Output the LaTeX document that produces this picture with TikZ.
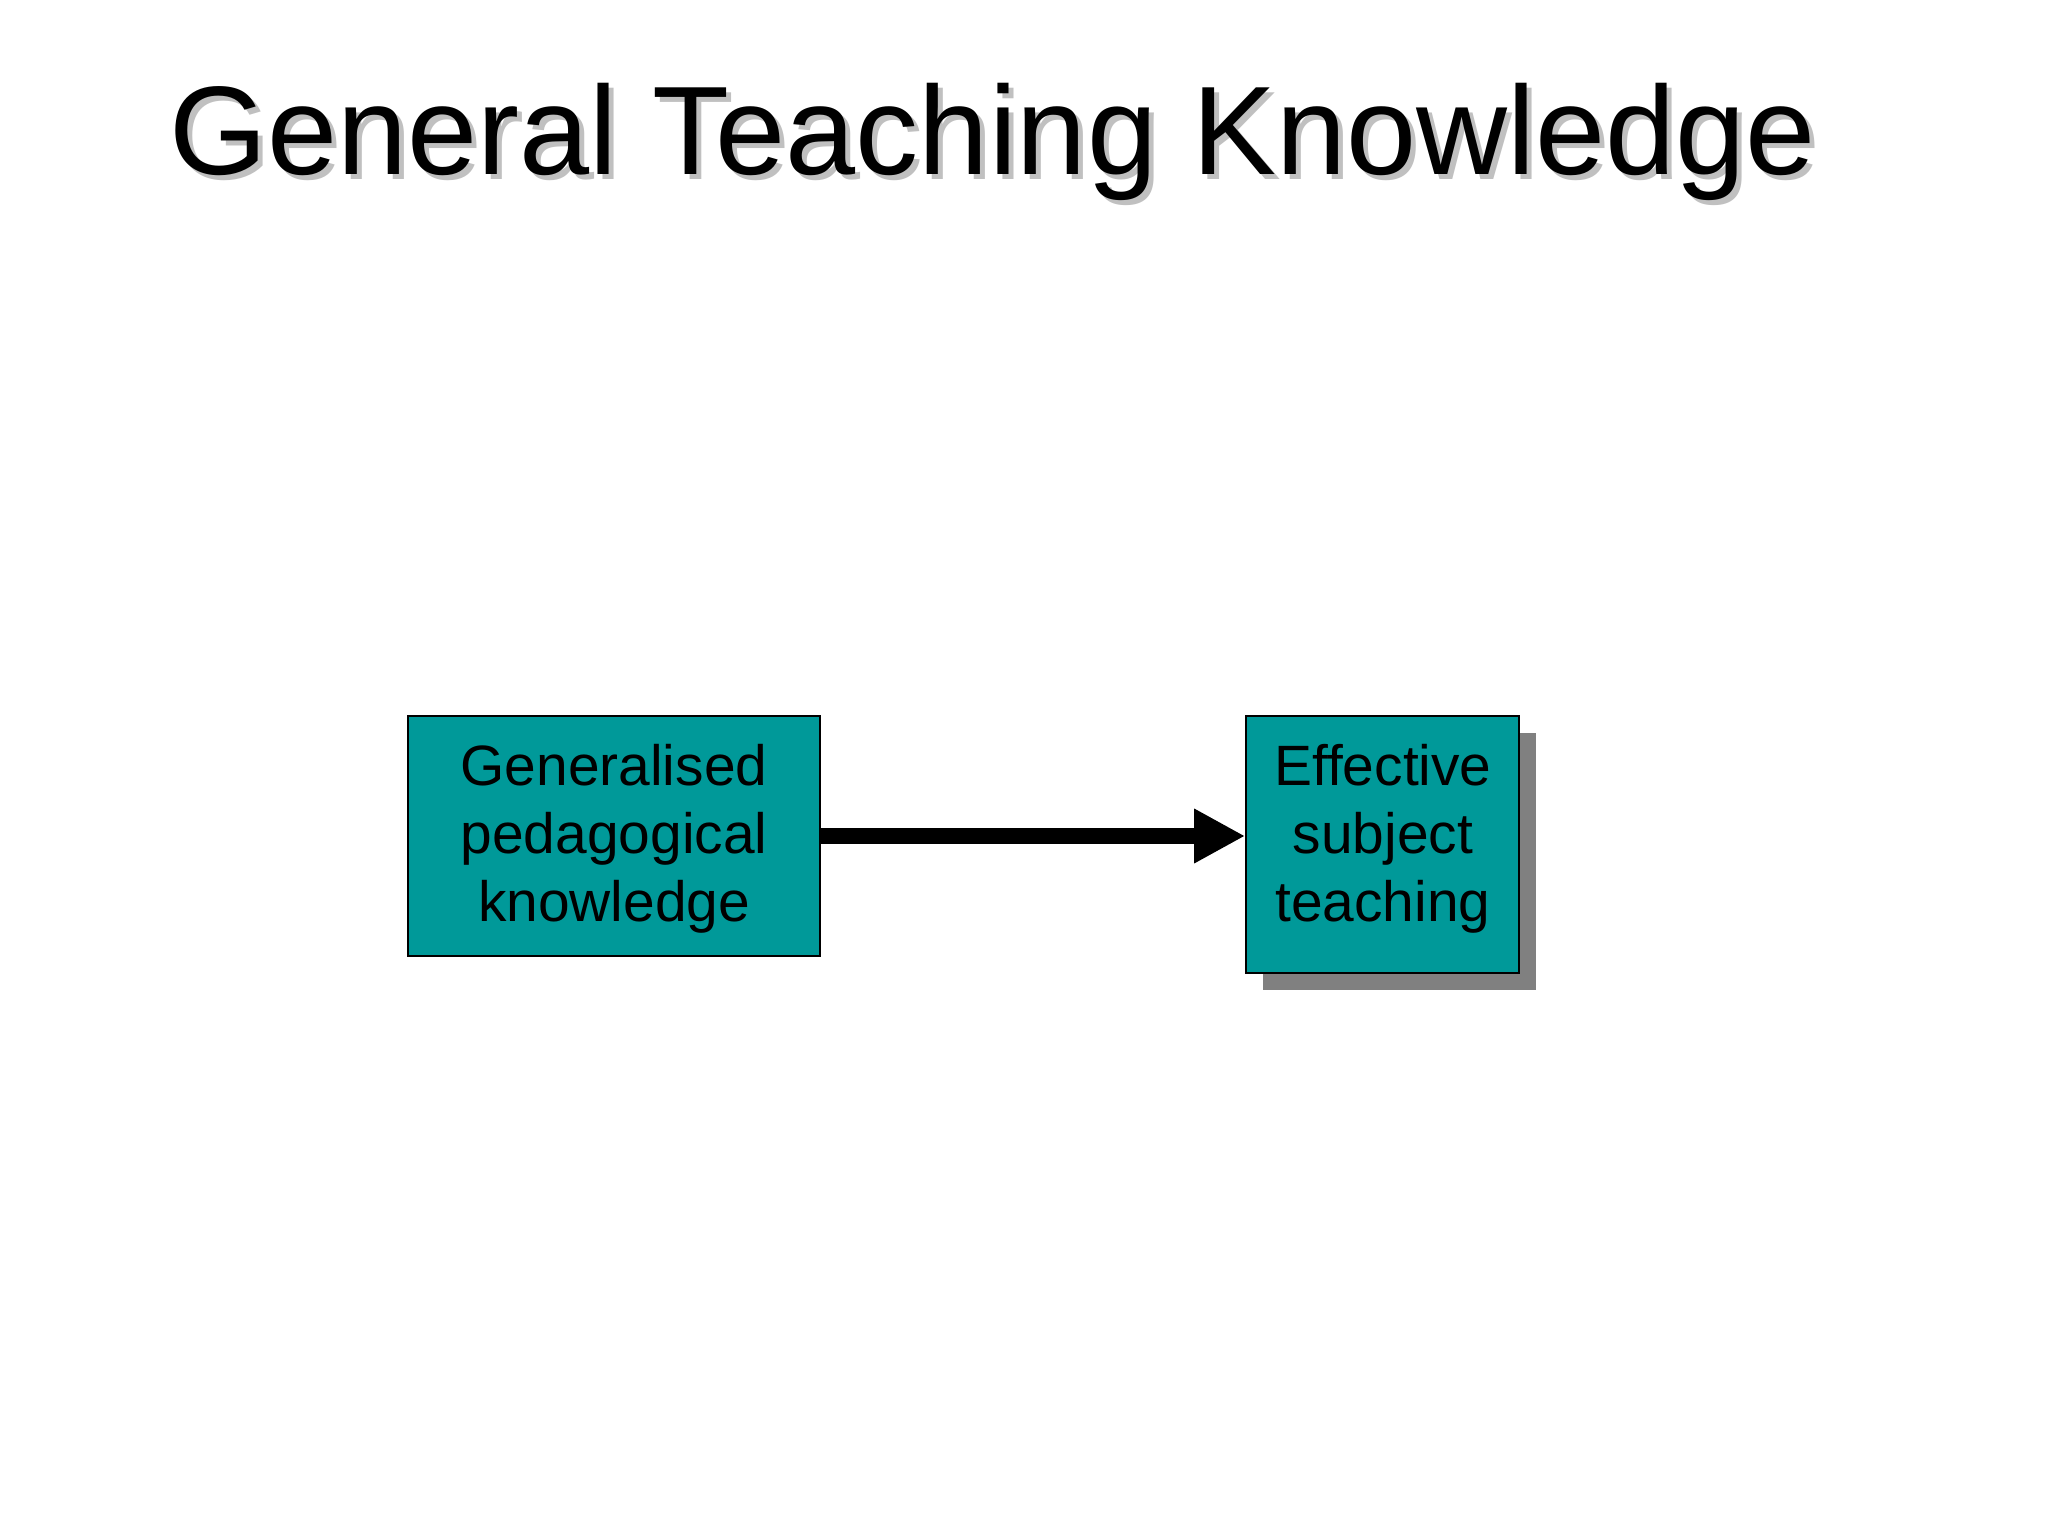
\documentclass[tikz,border=0pt]{standalone}
\usepackage{fontspec}
\setmainfont{Liberation Sans}
\usetikzlibrary{arrows.meta,shadows}
\definecolor{tealbox}{RGB}{0,153,153}
\definecolor{boxshadow}{RGB}{128,128,128}
\definecolor{titleshade}{RGB}{192,192,192}
\begin{document}
\begin{tikzpicture}[x=0.3515625pt,y=-0.3515625pt,
  titlestyle/.style={anchor=base west, inner sep=0pt, font=\fontsize{44.3}{52}\selectfont},
  box/.style={draw=black, line width=0.6pt, fill=tealbox, inner sep=0pt},
  boxtext/.style={align=center, inner sep=0pt, font=\fontsize{20}{24}\selectfont},
  conn/.style={line width=5.3pt, -{Triangle[length=17.9pt, width=17.9pt]}}]
\useasboundingbox (0,0) rectangle (2048,1536);
\fill[white] (0,0) rectangle (2048,1536);
% title
\node[titlestyle, text=titleshade] (titleshadow) at (174,180) {General Teaching Knowledge};
\node[titlestyle] (title) at (169,175) {General Teaching Knowledge};
% boxes
\node[box, minimum width=144.84pt, minimum height=84.38pt] (a) at (614,836) {};
\node[box, minimum width=95.98pt, minimum height=90.35pt,
  drop shadow={shadow xshift=5.98pt, shadow yshift=-5.98pt, opacity=1, fill=boxshadow}] (b) at (1382.5,844.5) {};
\node[boxtext] (atext) at (614,839) {Generalised\\pedagogical\\knowledge};
\node[boxtext] (btext) at (1383,839) {Effective\\subject\\teaching};
% connector
\draw[conn] (a.east) -- (b.west |- a.east);
\end{tikzpicture}
\end{document}
